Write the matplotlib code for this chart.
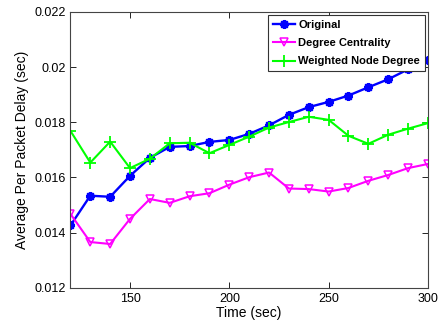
import matplotlib
matplotlib.use('Agg')
import matplotlib.pyplot as plt

# time in seconds
time = [120, 130, 140, 150, 160, 170, 180, 190, 200, 210,
        220, 230, 240, 250, 260, 270, 280, 290, 300]

original = [0.01426, 0.01534, 0.01530, 0.01606, 0.01671, 0.01711, 0.01714, 0.01729, 0.01736, 0.01758,
            0.01789, 0.01827, 0.01855, 0.01874, 0.01897, 0.01927, 0.01956, 0.01992, 0.02026]
degree_centrality = [0.01468, 0.01366, 0.01359, 0.01450, 0.01522, 0.01508, 0.01532, 0.01543, 0.01574, 0.01601,
                     0.01618, 0.01560, 0.01558, 0.01549, 0.01562, 0.01588, 0.01609, 0.01634, 0.01649]
weighted_degree = [0.01769, 0.01654, 0.01730, 0.01634, 0.01668, 0.01724, 0.01726, 0.01688, 0.01718, 0.01748,
                   0.01781, 0.01801, 0.01820, 0.01809, 0.01751, 0.01722, 0.01755, 0.01777, 0.01797]

yticks = [0.012, 0.014, 0.016, 0.018, 0.020, 0.022]
ytick_labels = ['0.012', '0.014', '0.016', '0.018', '0.02', '0.022']
xticks = [150, 200, 250, 300]

plt.rcParams['font.family'] = ['Liberation Sans', 'DejaVu Sans']

fig = plt.figure(figsize=(4.43, 3.32), dpi=100)
ax = fig.add_axes([0.159, 0.133, 0.807, 0.831])

ax.plot(time, original, color='#0000ff', lw=1.7, marker=(8, 2, 0), ms=6.5, mew=1.6,
        label='Original')
ax.plot(time, degree_centrality, color='#ff00ff', lw=1.5, marker='v', ms=6,
        mfc='none', mew=1.1, label='Degree Centrality')
ax.plot(time, weighted_degree, color='#00ff00', lw=1.5, marker='+', ms=8, mew=1.3,
        label='Weighted Node Degree')

ax.set_xlim(120, 300)
ax.set_ylim(0.012, 0.022)
ax.set_xticks(xticks)
ax.set_yticks(yticks)
ax.set_yticklabels(ytick_labels)
ax.tick_params(direction='in', top=True, right=True, labelsize=9, length=4, width=0.6)
for s in ax.spines.values():
    s.set_linewidth(0.8)
    s.set_color('#444444')

ax.set_xlabel('Time (sec)', fontsize=10, labelpad=1)
ax.set_ylabel('Average Per Packet Delay (sec)', fontsize=10, labelpad=4)

leg = ax.legend(loc='upper right', prop={'weight': 'bold', 'size': 8}, fancybox=False,
                framealpha=1, edgecolor='#333333', borderpad=0.45, labelspacing=0.75,
                handlelength=2.0, handletextpad=0.3, borderaxespad=0.25)
leg.get_frame().set_linewidth(0.8)

fig.savefig('out.png', dpi=100)
